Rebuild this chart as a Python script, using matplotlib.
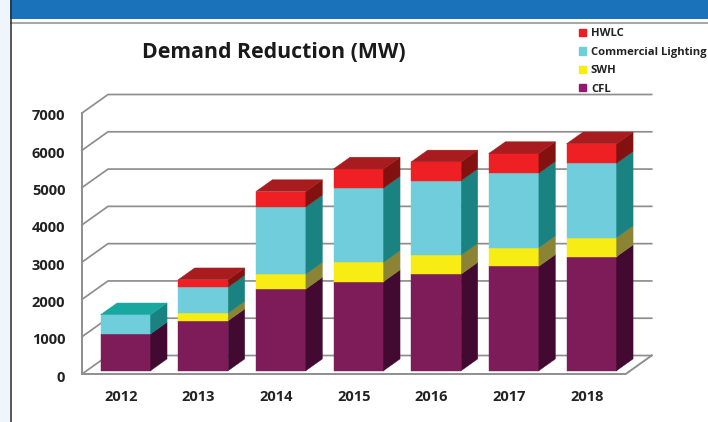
import matplotlib
matplotlib.use('Agg')
import matplotlib.pyplot as plt
from matplotlib.patches import Patch, Polygon, Rectangle
from matplotlib.transforms import ScaledTranslation

years = ['2012', '2013', '2014', '2015', '2016', '2017', '2018']
cfl = [985, 1340, 2190, 2390, 2590, 2800, 3060]
swh = [0, 205, 400, 515, 510, 500, 510]
commercial = [515, 700, 1805, 1995, 2000, 2000, 1995]
hwlc = [0, 195, 410, 510, 500, 525, 520]

# (name, values, front, side, top)
series = [
    ('CFL', cfl, '#7D1C58', '#420A30', '#5A1240'),
    ('SWH', swh, '#F7EC13', '#8B8434', '#C4BB20'),
    ('Commercial Lighting', commercial, '#6FCDDC', '#1A8280', '#18A8A0'),
    ('HWLC', hwlc, '#EE2024', '#82110F', '#A81C1F'),
]
legend_colors = {'CFL': '#93186F', 'SWH': '#F7EC13',
                 'Commercial Lighting': '#6FCDDC', 'HWLC': '#ED1C24'}

W, H = 708, 422
GRID = '#8E8E8E'
BAR_W = 0.644
# oblique offset of the back wall, in data units
DX = 26 / 77.67
DY = 18.5 / 37.3 * 1000
D_FRONT, D_BACK = 0.18, 0.815

plt.rcParams['font.family'] = ['Open Sans', 'DejaVu Sans']

fig = plt.figure(figsize=(W / 100, H / 100), dpi=100)

# slide background, in pixels
bg = fig.add_axes([0, 0, 1, 1])
bg.set_xlim(0, W)
bg.set_ylim(H, 0)
bg.axis('off')
bg.add_patch(Rectangle((0, 0), 10, H, color='#EEF5FC', lw=0))
bg.add_patch(Rectangle((10, 0), W - 10, 19, color='#1A73BA', lw=0))
bg.add_patch(Rectangle((10, 21.5), W - 10, 2, color='#A8A8A8', lw=0))
bg.plot([10.5, 10.5], [0, H], color='#2A2A2A', lw=1.1)


def pos(x, y, d):
    return (x + d * DX, y + d * DY)


def quad(ax, pts, color, z):
    ax.add_patch(Polygon(pts, closed=True, facecolor=color, edgecolor=color,
                         lw=0.3, clip_on=False, zorder=z))


ax = fig.add_axes([82 / W, 1 - 374 / H, (625.7 - 82) / W, (374 - 113) / H])
ax.set_xlim(-0.5, 6.5)
ax.set_ylim(0, 7000)
for s in ax.spines.values():
    s.set_visible(False)
ax.patch.set_alpha(0)

# walls and grid
for val in range(0, 8000, 1000):
    a = pos(-0.5, val, 0)
    b = pos(-0.5, val, 1)
    c = pos(6.5, val, 1)
    ax.plot([a[0], b[0], c[0]], [a[1], b[1], c[1]], color=GRID, lw=1.25,
            clip_on=False, zorder=1, solid_joinstyle='miter')
ax.plot([-0.5, -0.5], [0, 7000], color=GRID, lw=1.4, clip_on=False, zorder=1)
floor = [pos(-0.5, 0, 0), pos(6.5, 0, 0), pos(6.5, 0, 1)]
ax.plot([p[0] for p in floor], [p[1] for p in floor], color=GRID, lw=1.4,
        clip_on=False, zorder=1)

# stacked bars
for i in range(len(years)):
    base = 0
    z = 2 + i
    last = max(k for k, s in enumerate(series) if s[1][i] > 0)
    for k, (name, values, front, side, top) in enumerate(series):
        v = values[i]
        if v <= 0:
            continue
        x0, x1 = i - BAR_W / 2, i + BAR_W / 2
        y0, y1 = base, base + v
        quad(ax, [pos(x0, y0, D_FRONT), pos(x1, y0, D_FRONT),
                  pos(x1, y1, D_FRONT), pos(x0, y1, D_FRONT)], front, z)
        quad(ax, [pos(x1, y0, D_FRONT), pos(x1, y0, D_BACK),
                  pos(x1, y1, D_BACK), pos(x1, y1, D_FRONT)], side, z)
        if k == last:
            quad(ax, [pos(x0, y1, D_FRONT), pos(x1, y1, D_FRONT),
                      pos(x1, y1, D_BACK), pos(x0, y1, D_BACK)], top, z)
        base = y1

ax.set_xticks(range(len(years)))
ax.set_xticklabels(years, fontsize=10.5, fontweight='bold', color='#222222')
ax.set_yticks(range(0, 8000, 1000))
ax.set_yticklabels([str(v) for v in range(0, 8000, 1000)], fontsize=10.5,
                   fontweight='bold', color='#222222')
ax.tick_params(axis='x', length=0, pad=11.5)
ax.tick_params(axis='y', length=0, pad=12)
# tick labels sit a touch lower than the grid in the reference
shift = ScaledTranslation(0, -2 / 100, fig.dpi_scale_trans)
for lab in ax.get_yticklabels():
    lab.set_transform(lab.get_transform() + shift)

fig.text(274 / W, 1 - 52.5 / H, 'Demand Reduction (MW)', ha='center', va='center',
         fontsize=15.3, fontweight='bold', color='#1A1A1A')

handles = [Patch(color=legend_colors[s[0]], label=s[0]) for s in reversed(series)]
fig.legend(handles=handles, loc='upper left', bbox_to_anchor=(579 / W, 1 - 28.5 / H),
           frameon=False, ncol=1, handlelength=0.62, handleheight=0.62,
           handletextpad=0.44, labelspacing=0.66, borderpad=0, borderaxespad=0,
           prop={'size': 8.1, 'weight': 'bold'}, labelcolor='#222222')

fig.savefig('out.png', dpi=100)
